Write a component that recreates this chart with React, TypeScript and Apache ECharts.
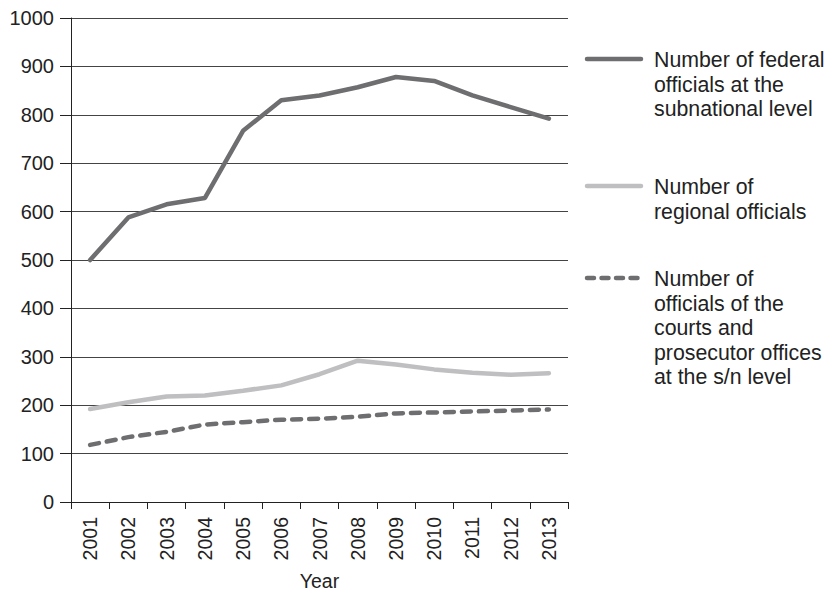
import React, { useEffect, useRef } from "react";
import * as echarts from "echarts";

const years = ["2001","2002","2003","2004","2005","2006","2007","2008","2009","2010","2011","2012","2013"];
const federal = [500, 588, 615, 628, 767, 830, 840, 857, 878, 870, 840, 816, 792];
const regional = [192, 206, 218, 220, 230, 241, 264, 292, 284, 274, 267, 263, 266];
const courts = [118, 134, 145, 160, 165, 170, 172, 176, 183, 185, 187, 189, 191];
const yTicks = { min: 0, max: 1000, interval: 100 };
const legendItems = [
  { lines: ["Number of federal", "officials at the", "subnational level"], color: "#6e6e71", dash: false },
  { lines: ["Number of", "regional officials"], color: "#bfbfc1", dash: false },
  { lines: ["Number of", "officials of the", "courts and", "prosecutor offices", "at the s/n level"], color: "#6e6e71", dash: true },
];

const FONT = "'Liberation Sans', Arial, Helvetica, sans-serif";

export default function App() {
  const ref = useRef<HTMLDivElement>(null);
  useEffect(() => {
    if (!ref.current) return;
    const chart = echarts.init(ref.current, null, { renderer: "svg" });
    const legendTops = [59, 186, 278];
    const graphic: any[] = [];
    legendItems.forEach((it, i) => {
      const y = legendTops[i];
      graphic.push({
        type: "line",
        shape: { x1: 587, y1: y, x2: 641, y2: y },
        style: { stroke: it.color, lineWidth: 4.5, lineCap: "round", lineDash: it.dash ? [7, 7.5] : undefined },
      });
      it.lines.forEach((t, j) => {
        graphic.push({
          type: "text",
          x: 654,
          y: y + 1 + j * 24.5,
          style: { text: t, fontSize: 21.3, fontFamily: FONT, fill: "#222", verticalAlign: "middle", align: "left" },
        });
      });
    });
    chart.setOption({
      animation: false,
      grid: { left: 71, right: 265, top: 18, bottom: 90, containLabel: false, outerBoundsMode: "none" },
      xAxis: {
        type: "category",
        data: years,
        boundaryGap: true,
        name: "Year",
        nameLocation: "middle",
        nameGap: 69,
        nameTextStyle: { fontSize: 19.5, fontFamily: FONT, color: "#222" },
        axisLine: { lineStyle: { color: "#222", width: 1 } },
        axisTick: { show: true, length: 7, lineStyle: { color: "#222" } },
        axisLabel: { rotate: 90, fontSize: 19.5, fontFamily: FONT, color: "#222", margin: 15 },
        splitLine: { show: false },
      },
      yAxis: {
        type: "value",
        min: yTicks.min,
        max: yTicks.max,
        interval: yTicks.interval,
        axisLine: { show: true, lineStyle: { color: "#222", width: 1 } },
        axisTick: { show: true, length: 11, lineStyle: { color: "#222" } },
        axisLabel: { fontSize: 20, fontFamily: FONT, color: "#222", margin: 17, formatter: (v: number) => String(v) },
        splitLine: { show: true, lineStyle: { color: "#444", width: 1 } },
      },
      series: [
        {
          name: "federal", type: "line", data: federal, symbol: "none",
          lineStyle: { color: "#6e6e71", width: 4.5, cap: "round" },
        },
        {
          name: "regional", type: "line", data: regional, symbol: "none",
          lineStyle: { color: "#bfbfc1", width: 4.5, cap: "round" },
        },
        {
          name: "courts", type: "line", data: courts, symbol: "none",
          lineStyle: { color: "#6e6e71", width: 4.5, type: [9, 8], cap: "round" },
        },
      ],
      graphic,
    });
    return () => chart.dispose();
  }, []);
  return <div ref={ref} style={{ width: 833, height: 592, position: "absolute", left: 0, top: 0 }} />;
}
